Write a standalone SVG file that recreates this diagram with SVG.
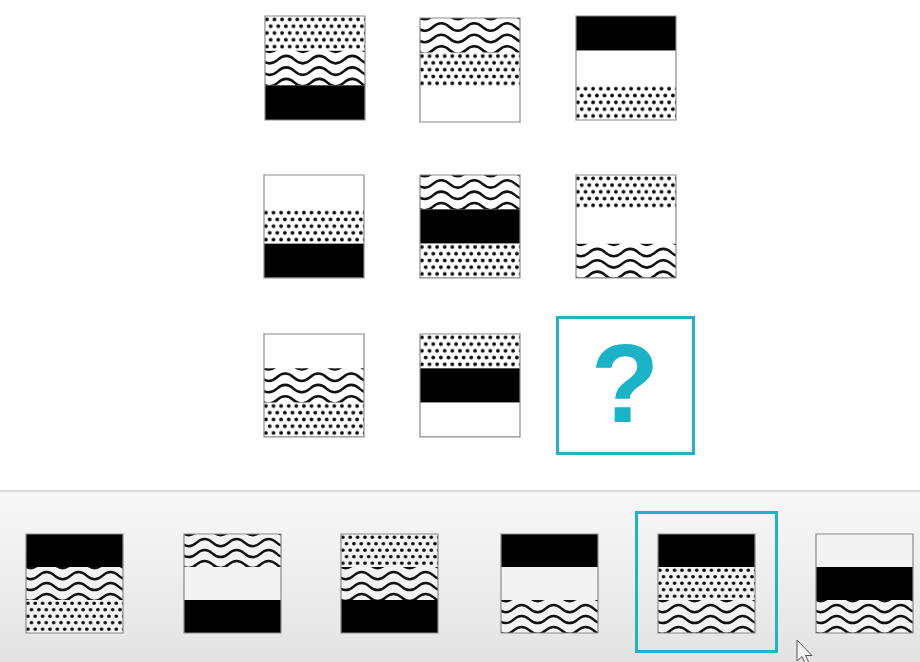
<svg xmlns="http://www.w3.org/2000/svg" xmlns:xlink="http://www.w3.org/1999/xlink" width="920" height="662" viewBox="0 0 920 662">
<style>
.frame{fill:none;stroke:#8a8a8a;stroke-width:1.2;vector-effect:non-scaling-stroke}
.wl{fill:none;stroke:#111;stroke-width:2.5}
.top use{fill:#ffffff}
.bot use{fill:#f3f3f3}
.sel{fill:none;stroke:#1fb3c6;stroke-width:3}
.qm{font-family:"Liberation Sans",Arial,sans-serif;font-weight:bold;font-size:112px;fill:#1cb2c8}
</style>
<defs>
<linearGradient id="barg" x1="0" y1="0" x2="0" y2="1">
<stop offset="0" stop-color="#f8f8f8"/>
<stop offset="1" stop-color="#e3e3e3"/>
</linearGradient>
<pattern id="dotp" patternUnits="userSpaceOnUse" width="7.6" height="13.6">
<circle cx="1.9" cy="3.4" r="1.9" fill="#0a0a0a"/>
<circle cx="5.7" cy="10.2" r="1.9" fill="#0a0a0a"/>
</pattern>
<clipPath id="bandclip" clipPathUnits="userSpaceOnUse">
<rect x="0" y="0" width="100" height="34.67"/>
</clipPath>
<path id="wline" class="wl" d="M -20 0 q 8.25 -7.5 16.5 0 t 16.5 0 t 16.5 0 t 16.5 0 t 16.5 0 t 16.5 0 t 16.5 0 t 16.5 0"/>
<g id="wv">
<rect x="0" y="0" width="100" height="34.67"/>
<g clip-path="url(#bandclip)">
<use xlink:href="#wline" y="-2.5"/>
<use xlink:href="#wline" y="9"/>
<use xlink:href="#wline" y="20.5"/>
<use xlink:href="#wline" y="32"/>
</g>
</g>
<g id="dt">
<rect x="0" y="0" width="100" height="34.67"/>
<rect x="0" y="0" width="100" height="34.67" fill="url(#dotp)"/>
</g>
<g id="bk"><rect x="0" y="0" width="100" height="34.67" fill="#000"/></g>
<g id="wh"><rect x="0" y="0" width="100" height="34.67"/></g>
</defs>

<rect x="0" y="0" width="920" height="491" fill="#ffffff"/>
<rect x="0" y="491" width="920" height="171" fill="url(#barg)"/>
<line x1="0" y1="491" x2="920" y2="491" stroke="#d9d9d9" stroke-width="2"/>

<g class="top">
<g id="t1" transform="translate(265,16)"><use xlink:href="#dt"/><use xlink:href="#wv" y="34.67"/><use xlink:href="#bk" y="69.33"/><rect class="frame" width="100" height="104"/></g>
<g id="t2" transform="translate(420,18)"><use xlink:href="#wv"/><use xlink:href="#dt" y="34.67"/><use xlink:href="#wh" y="69.33"/><rect class="frame" width="100" height="104"/></g>
<g id="t3" transform="translate(576,16)"><use xlink:href="#bk"/><use xlink:href="#wh" y="34.67"/><use xlink:href="#dt" y="69.33"/><rect class="frame" width="100" height="104"/></g>
<g id="t4" transform="translate(264,175) scale(1,0.99)"><use xlink:href="#wh"/><use xlink:href="#dt" y="34.67"/><use xlink:href="#bk" y="69.33"/><rect class="frame" width="100" height="104"/></g>
<g id="t5" transform="translate(420,175) scale(1,0.99)"><use xlink:href="#wv"/><use xlink:href="#bk" y="34.67"/><use xlink:href="#dt" y="69.33"/><rect class="frame" width="100" height="104"/></g>
<g id="t6" transform="translate(576,175) scale(1,0.99)"><use xlink:href="#dt"/><use xlink:href="#wh" y="34.67"/><use xlink:href="#wv" y="69.33"/><rect class="frame" width="100" height="104"/></g>
<g id="t7" transform="translate(264,334) scale(1,0.99)"><use xlink:href="#wh"/><use xlink:href="#wv" y="34.67"/><use xlink:href="#dt" y="69.33"/><rect class="frame" width="100" height="104"/></g>
<g id="t8" transform="translate(420,334) scale(1,0.99)"><use xlink:href="#dt"/><use xlink:href="#bk" y="34.67"/><use xlink:href="#wh" y="69.33"/><rect class="frame" width="100" height="104"/></g>
</g>

<g id="question">
<rect x="557.5" y="317.5" width="136" height="136" fill="#ffffff" class="sel"/>
<text class="qm" x="625" y="422" text-anchor="middle">?</text>
</g>

<g id="selected-frame">
<rect x="636.5" y="512.5" width="140" height="139" fill="#ededed" class="sel"/>
</g>

<g class="bot">
<g id="o1" transform="translate(26,534) scale(0.97,0.952)"><use xlink:href="#bk"/><use xlink:href="#wv" y="34.67"/><use xlink:href="#dt" y="69.33"/><rect class="frame" width="100" height="104"/></g>
<g id="o2" transform="translate(184,534) scale(0.97,0.952)"><use xlink:href="#wv"/><use xlink:href="#wh" y="34.67"/><use xlink:href="#bk" y="69.33"/><rect class="frame" width="100" height="104"/></g>
<g id="o3" transform="translate(341,534) scale(0.97,0.952)"><use xlink:href="#dt"/><use xlink:href="#wv" y="34.67"/><use xlink:href="#bk" y="69.33"/><rect class="frame" width="100" height="104"/></g>
<g id="o4" transform="translate(501,534) scale(0.97,0.952)"><use xlink:href="#bk"/><use xlink:href="#wh" y="34.67"/><use xlink:href="#wv" y="69.33"/><rect class="frame" width="100" height="104"/></g>
<g id="o5" transform="translate(658,534) scale(0.97,0.952)"><use xlink:href="#bk"/><use xlink:href="#dt" y="34.67"/><use xlink:href="#wv" y="69.33"/><rect class="frame" width="100" height="104"/></g>
<g id="o6" transform="translate(816,534) scale(0.97,0.952)"><use xlink:href="#wh"/><use xlink:href="#bk" y="34.67"/><use xlink:href="#wv" y="69.33"/><rect class="frame" width="100" height="104"/></g>
</g>

<g id="cursor" transform="translate(797,640)">
<path d="M0 0 L0 21 L5 16.5 L8.5 24.5 L12 23 L8.5 15.5 L15 15.5 Z" fill="#f4f4f4" stroke="#555" stroke-width="1"/>
</g>
</svg>
